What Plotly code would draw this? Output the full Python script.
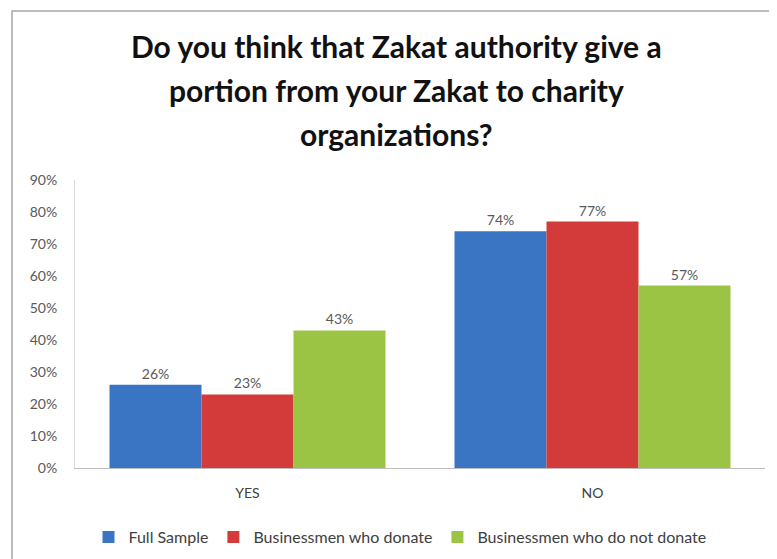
import plotly.graph_objects as go

categories = ["YES", "NO"]
series_names = ["Full Sample", "Businessmen who donate", "Businessmen who do not donate"]
full_sample = [26, 74]
donate = [23, 77]
not_donate = [43, 57]
colors = ["#3A75C4", "#D33B3B", "#9BC444"]
title_lines = ["Do you think that Zakat authority give a",
               "portion from your Zakat to charity",
               "organizations?"]
y_ticks = [0, 10, 20, 30, 40, 50, 60, 70, 80, 90]

OFF = 8  # page body margin offset
W, H = 777, 559
L, R, T, B = 75 - OFF, 20, 180 - OFF, 559 - (468 - OFF)
pw, ph = W - L - R, H - T - B

def px(x):
    return (x - OFF - L) / pw

def py(y):
    return (H - B - (y - OFF)) / ph

fig = go.Figure()
for name, vals, c in zip(series_names, [full_sample, donate, not_donate], colors):
    fig.add_trace(go.Bar(
        x=categories, y=vals, name=name,
        marker=dict(color=c, line=dict(width=0)),
        text=[f"{v}%" for v in vals], textposition="outside",
        textfont=dict(family="Lato", size=14, color="#595959"),
        cliponaxis=False,
    ))

annotations = []
for i, line in enumerate(title_lines):
    annotations.append(dict(
        text=f"<b>{line}</b>", x=px(396), y=py(46 + 44 * i),
        xref="paper", yref="paper", showarrow=False,
        xanchor="center", yanchor="middle",
        font=dict(family="Lato", size=30, color="#111111"),
    ))

fig.update_layout(
    width=W, height=H,
    margin=dict(l=L, r=R, t=T, b=B),
    paper_bgcolor="white", plot_bgcolor="white",
    barmode="group", bargap=0.2, bargroupgap=0,
    showlegend=True,
    legend=dict(orientation="h", x=px(400), xanchor="center", y=py(537), yanchor="middle",
                font=dict(family="Lato", size=16, color="#404040"), itemwidth=30),
    annotations=annotations,
    shapes=[dict(type="rect", xref="paper", yref="paper",
                 x0=px(12), x1=px(800), y0=py(600), y1=py(11),
                 line=dict(color="#A6A6A6", width=1.5))],
    font=dict(family="Lato"),
)
fig.update_yaxes(range=[0, 90], tickvals=y_ticks, ticktext=[f"{v}%" for v in y_ticks],
                 showgrid=False, showline=True, linecolor="#D9D9D9", zeroline=False,
                 tickfont=dict(family="Lato", size=14, color="#595959"), ticks="",
                 ticklabelstandoff=14)
fig.update_xaxes(showline=True, linecolor="#BFBFBF", showgrid=False,
                 tickfont=dict(family="Lato", size=14, color="#404040"), ticks="",
                 ticklabelstandoff=12)

fig.write_html("out.html")
